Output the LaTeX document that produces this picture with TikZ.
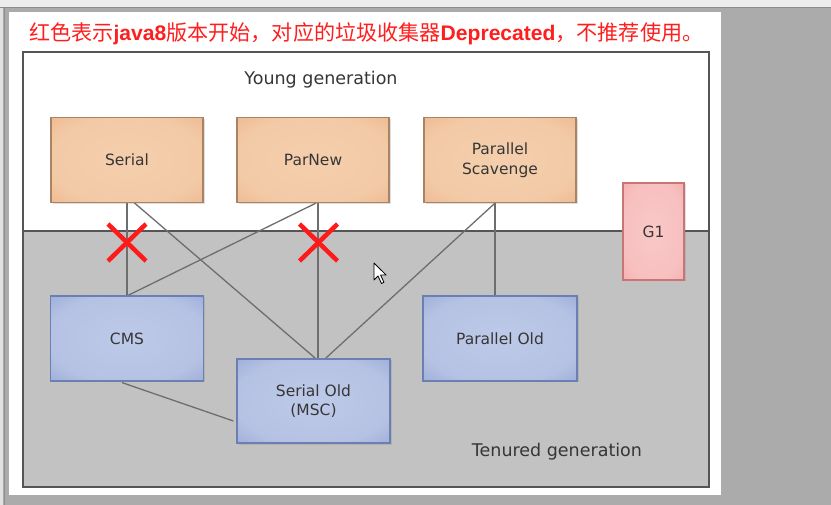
\documentclass[tikz,border=0pt]{standalone}
\usepackage{fontspec}
\setmainfont{DejaVu Sans}
\newfontfamily\cjkfont{Noto Sans CJK SC}
\newfontfamily\latinfont{Liberation Sans}
\usetikzlibrary{calc,shadows}
\definecolor{bggray}{HTML}{ABABAB}
\definecolor{tenured}{HTML}{C2C2C2}
\definecolor{framec}{HTML}{555555}
\definecolor{linec}{HTML}{6E6E6E}
\definecolor{txt}{HTML}{363636}
\definecolor{titlered}{HTML}{FF1E1E}
\definecolor{crossred}{HTML}{FF1A1A}
\definecolor{orangeb}{HTML}{A98363}
\definecolor{blueb}{HTML}{6C7FB2}
\definecolor{pinkb}{HTML}{C77575}
\pgfdeclareradialshading{orangeglow}{\pgfpoint{0bp}{0bp}}{rgb(0bp)=(0.96,0.81,0.68); rgb(26bp)=(0.95,0.79,0.65); rgb(50bp)=(0.91,0.65,0.46)}
\pgfdeclareradialshading{blueglow}{\pgfpoint{0bp}{0bp}}{rgb(0bp)=(0.74,0.79,0.91); rgb(26bp)=(0.71,0.76,0.89); rgb(50bp)=(0.49,0.58,0.81)}
\pgfdeclareradialshading{pinkglow}{\pgfpoint{0bp}{0bp}}{rgb(0bp)=(0.98,0.78,0.78); rgb(26bp)=(0.97,0.75,0.75); rgb(50bp)=(0.94,0.60,0.60)}
\pgfdeclarelayer{back}
\pgfdeclarelayer{lines}
\pgfsetlayers{back,lines,main}
\tikzset{
  gbox/.style={draw, line width=1.2pt, inner sep=0pt, align=center, text=txt,
    font=\fontsize{15.5}{19.5}\selectfont,
    drop shadow={shadow xshift=1.5pt, shadow yshift=-1.5pt, opacity=0.25}},
  youngbox/.style={gbox, draw=orangeb, shading=orangeglow, minimum width=152pt, minimum height=85pt},
  oldbox/.style={gbox, draw=blueb, shading=blueglow, minimum width=153pt, minimum height=85pt},
  g1box/.style={gbox, draw=pinkb, shading=pinkglow, minimum width=61pt, minimum height=97pt},
  conn/.style={draw=linec, line width=1.3pt},
  redx/.style={draw=crossred, line width=4.5pt},
  genlabel/.style={text=txt, font=\fontsize{17.5}{21}\selectfont},
}
\begin{document}
\begin{tikzpicture}[x=1pt,y=-1pt]
\useasboundingbox (0,0) rectangle (831,505);
\begin{pgfonlayer}{back}
  \fill[bggray] (0,0) rectangle (831,505);
  \fill[black!7] (0,0) rectangle (831,7);
  \draw[black!45, line width=1pt] (0,8) -- (831,8);
  \fill[black!12] (0,8) rectangle (3,505);
  \draw[black!45, line width=1pt] (4,8) -- (4,505);
  \fill[white] (9,12) rectangle (721,495);
  \fill[white] (23,52) rectangle (709,231);
  \fill[tenured] (23,231) rectangle (709,487);
  \draw[framec, line width=1.6pt] (23,231) -- (709,231);
  \draw[framec, line width=1.6pt] (23,52) rectangle (709,487);
\end{pgfonlayer}

\node[anchor=west, text=titlered, font=\fontsize{21.1}{25}\selectfont, inner sep=0pt] (title) at (29,33.5)
  {{\cjkfont 红色表示}{\latinfont\bfseries java8}{\cjkfont 版本开始，对应的垃圾收集器}{\latinfont\bfseries Deprecated}{\cjkfont ，不推荐使用。}};

\node[genlabel] (young) at (321,80) {Young generation};
\node[genlabel] (tenuredlbl) at (557,452) {Tenured generation};

\node[youngbox] (serial) at (127,160) {Serial};
\node[youngbox] (parnew) at (313,160) {ParNew};
\node[youngbox] (ps) at (500,160) {Parallel\\Scavenge};
\node[g1box] (g1) at (653.5,231.5) {G1};
\node[oldbox] (cms) at (127,338.5) {CMS};
\node[oldbox, minimum height=84pt] (so) at (313.5,401) {Serial Old\\(MSC)};
\node[oldbox, minimum width=154pt] (po) at (500,338.5) {Parallel Old};

\begin{pgfonlayer}{lines}
  \draw[conn] (serial.south) -- (cms.north);
  \draw[conn] ($(serial.south)+(3,-4)$) -- ($(so.north)+(2,0)$);
  \draw[conn] ($(parnew.south)+(3,0)$) -- ($(cms.north)+(1,0)$);
  \draw[conn] ($(parnew.south)+(5,0)$) -- ($(so.north)+(4.5,0)$);
  \draw[conn] ($(ps.south)+(-5,0)$) -- ($(po.north)+(-5,0)$);
  \draw[conn] ($(ps.south)+(-5,0)$) -- ($(so.north)+(12,0)$);
  \draw[conn] ($(cms.south)+(-5,1)$) -- ($(so.west)+(-3,20)$);
\end{pgfonlayer}

\coordinate (x1) at (127,242.5);
\coordinate (x2) at (318.5,242.5);
\draw[redx] ($(x1)+(-19,-18.5)$) -- ($(x1)+(19,18.5)$);
\draw[redx] ($(x1)+(-19,18.5)$) -- ($(x1)+(19,-18.5)$);
\draw[redx] ($(x2)+(-19,-18.5)$) -- ($(x2)+(19,18.5)$);
\draw[redx] ($(x2)+(-19,18.5)$) -- ($(x2)+(19,-18.5)$);

\coordinate (cursor) at (374,263);
\draw[black, fill=white, line width=0.8pt, line join=round]
  (cursor) -- ++(0,17) -- ++(4,-4) -- ++(3.5,7.5) -- ++(2.5,-1.2) -- ++(-3.4,-7.2) -- ++(5.6,0) -- cycle;
\end{tikzpicture}
\end{document}
